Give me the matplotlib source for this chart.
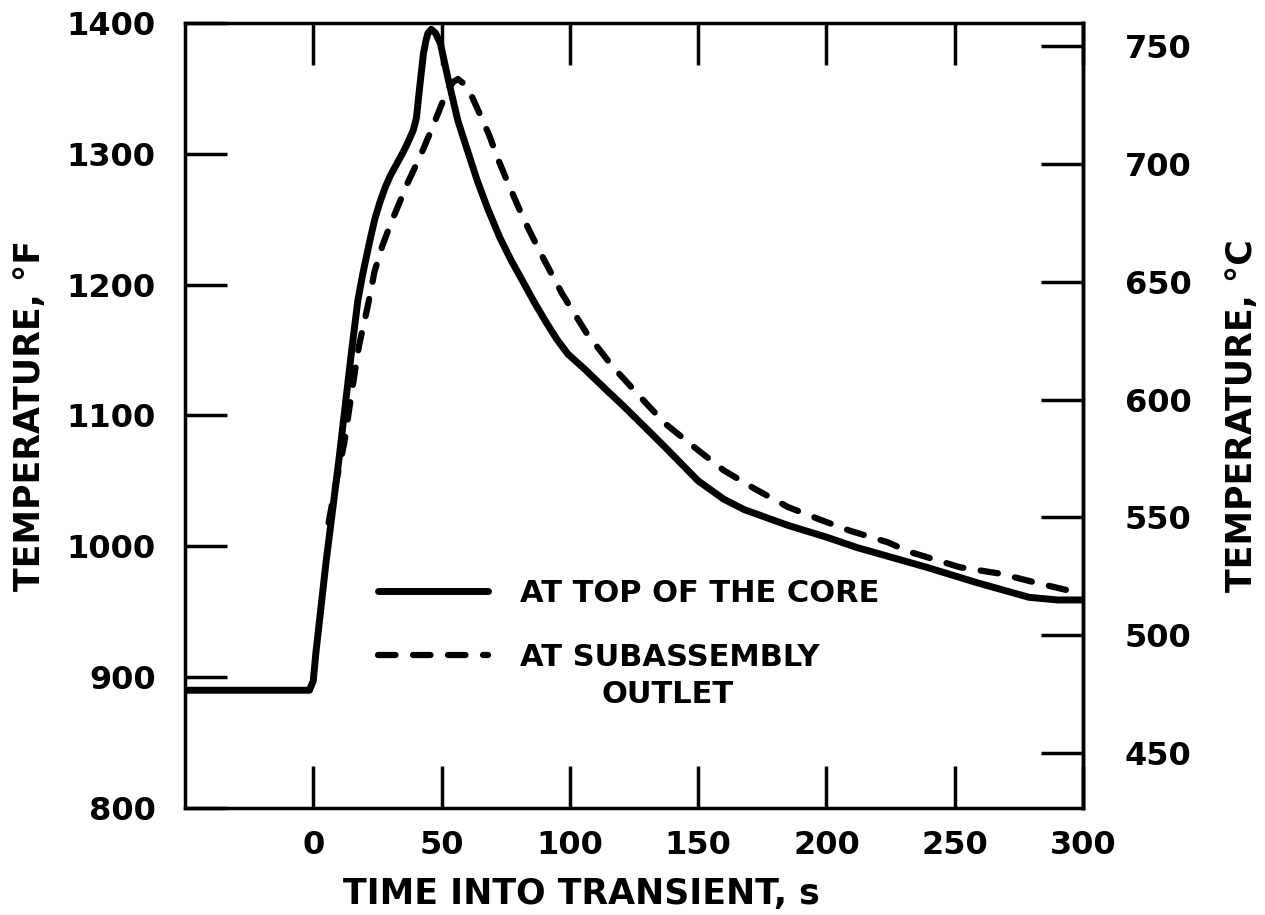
import matplotlib
matplotlib.use('Agg')
import matplotlib.pyplot as plt

# curves (time in s, temperature in degF)
t_core = [-50, -1.5, 0, 1, 5, 10, 15, 17.4, 19.3, 22, 24, 26, 28, 30, 32.5, 35, 37,
          39, 40.2, 41, 42, 43, 44, 44.7, 46, 47.7, 49.6, 50.8, 52.7, 56.4, 61,
          64, 68, 72.7, 77, 81.8, 86, 90.5, 95, 99.2, 106, 113.4, 121, 129.8, 137,
          150, 160, 168, 185, 200, 212, 239, 259, 279, 290, 300]
f_core = [890, 890, 897, 918, 988, 1066, 1150, 1188, 1208, 1233, 1250, 1263, 1274,
          1283, 1292, 1301, 1309, 1318, 1327, 1342, 1360, 1377, 1387, 1392, 1395,
          1392, 1384, 1373, 1356, 1325, 1297, 1279, 1258, 1236, 1219, 1202, 1187,
          1172, 1158, 1147, 1135, 1121, 1107, 1090, 1076, 1050, 1036, 1028, 1016,
          1007, 999, 984, 972, 961, 959, 959]

t_outlet = [6, 8.3, 12.1, 14.8, 17.8, 21.2, 23.9, 27, 30.3, 33.5, 36.4, 40, 43,
            46, 48.5, 50.7, 52.7, 54.7, 56.4, 59, 62, 65, 68.6, 72, 76, 81.8, 88.6,
            97, 106.5, 116.4, 127.5, 137, 149, 160, 172, 185, 198, 209, 224, 232,
            252, 268, 282, 297, 300]
f_outlet = [1018, 1043, 1079, 1115, 1153, 1183, 1210, 1230, 1247, 1262, 1276, 1291,
            1304, 1318, 1330, 1341, 1350, 1355, 1357, 1353, 1343, 1330, 1314, 1296,
            1277, 1251, 1224, 1193, 1163, 1138, 1114, 1094, 1075, 1058, 1044, 1030,
            1020, 1012, 1003, 996, 984, 979, 972, 965, 964]

x_ticks = [0, 50, 100, 150, 200, 250, 300]
f_ticks = [800, 900, 1000, 1100, 1200, 1300, 1400]
c_ticks = [450, 500, 550, 600, 650, 700, 750]

labels = ['AT TOP OF THE CORE', 'AT SUBASSEMBLY']


def f2c(f):
    return (f - 32) * 5 / 9


def c2f(c):
    return c * 9 / 5 + 32


plt.rcParams['font.weight'] = 'bold'
plt.rcParams['axes.labelweight'] = 'bold'

fig = plt.figure(figsize=(12.65, 9.15), dpi=100)
ax = fig.add_axes([0.1462, 0.1169, 0.7099, 0.8582])

ax.plot(t_core, f_core, color='black', lw=5, solid_capstyle='round',
        solid_joinstyle='round', label=labels[0])
ax.plot(t_outlet, f_outlet, color='black', lw=4.5, dashes=(2.8, 2.8),
        dash_capstyle='round', label=labels[1])

ax.set_xlim(-50, 300)
ax.set_ylim(800, 1400)
ax.set_xticks(x_ticks)
ax.set_yticks(f_ticks)

for sp in ax.spines.values():
    sp.set_linewidth(2.5)

ax.tick_params(axis='both', which='major', direction='in', length=30, width=2.5,
               labelsize=23)
ax.tick_params(axis='x', top=True, pad=16)
ax.tick_params(axis='y', pad=21)

ax.set_ylabel('TEMPERATURE, °F', fontsize=25, labelpad=14)
ax.set_xlabel('TIME INTO TRANSIENT, s', fontsize=25)
ax.xaxis.set_label_coords(0.442, -0.088)

sec = ax.secondary_yaxis('right', functions=(f2c, c2f))
sec.set_yticks(c_ticks)
sec.tick_params(direction='in', length=30, width=2.5, labelsize=23, pad=30)
sec.spines['right'].set_linewidth(2.5)
sec.set_ylabel('TEMPERATURE, °C', fontsize=25, labelpad=24)

leg = ax.legend(loc='upper left', bbox_to_anchor=(0.215, 0.292), frameon=False,
                fontsize=22, handlelength=3.6, handletextpad=1.05,
                labelspacing=1.15, borderpad=0, borderaxespad=0)
ax.text(0.537, 0.144, 'OUTLET', transform=ax.transAxes, fontsize=22,
        ha='center', va='center')

fig.savefig('out.png', dpi=100)
